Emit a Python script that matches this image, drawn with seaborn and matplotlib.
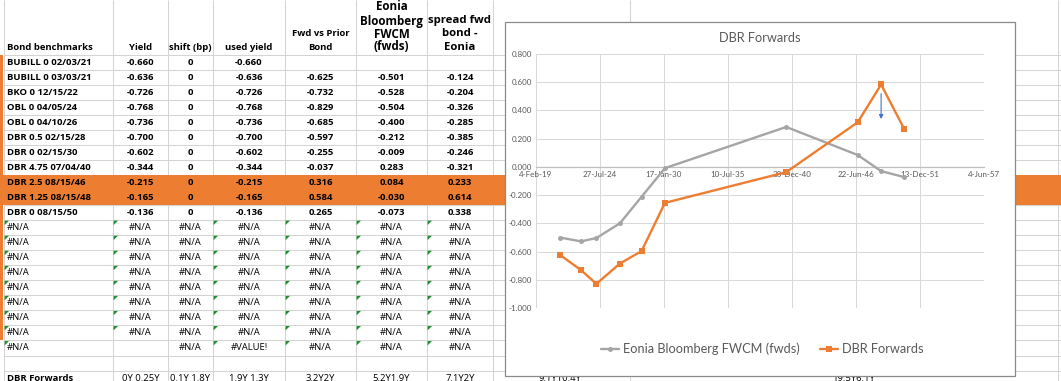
import numpy as np
import pandas as pd
import matplotlib
matplotlib.use("Agg")
import matplotlib.pyplot as plt
import matplotlib.dates as mdates
from matplotlib.patches import Rectangle, Polygon
from matplotlib.ticker import FuncFormatter
import seaborn as sns

# ---------------- data ----------------
bond_names = ["BUBILL 0 02/03/21", "BUBILL 0 03/03/21", "BKO 0 12/15/22", "OBL 0 04/05/24",
              "OBL 0 04/10/26", "DBR 0.5 02/15/28", "DBR 0 02/15/30", "DBR 4.75 07/04/40",
              "DBR 2.5 08/15/46", "DBR 1.25 08/15/48", "DBR 0 08/15/50"]
maturities = ["2021-02-03", "2021-03-03", "2022-12-15", "2024-04-05", "2026-04-10",
              "2028-02-15", "2030-02-15", "2040-07-04", "2046-08-15", "2048-08-15", "2050-08-15"]
yields = [-0.660, -0.636, -0.726, -0.768, -0.736, -0.700, -0.602, -0.344, -0.215, -0.165, -0.136]
shifts_bp = [0, 0, 0, 0, 0, 0, 0, 0, 0, 0, 0]
used_yields = [-0.660, -0.636, -0.726, -0.768, -0.736, -0.700, -0.602, -0.344, -0.215, -0.165, -0.136]
fwd_vs_prior = [np.nan, -0.625, -0.732, -0.829, -0.685, -0.597, -0.255, -0.037, 0.316, 0.584, 0.265]
eonia_fwcm = [np.nan, -0.501, -0.528, -0.504, -0.400, -0.212, -0.009, 0.283, 0.084, -0.030, -0.073]
spread_fwd_eonia = [np.nan, -0.124, -0.204, -0.326, -0.285, -0.385, -0.246, -0.321, 0.233, 0.614, 0.338]
highlight_rows = ["DBR 2.5 08/15/46", "DBR 1.25 08/15/48"]
n_na_rows = 9
fwd_tenor_labels = ["0Y 0.25Y", "0.1Y 1.8Y", "1.9Y 1.3Y", "3.2Y2Y", "5.2Y1.9Y", "7.1Y2Y",
                    "9.1Y10.4Y", "19.5Y6.1Y"]
header_labels = ["Bond benchmarks", "Yield", "shift (bp)", "used yield",
                 "Fwd vs Prior\nBond", "Eonia\nBloomberg\nFWCM\n(fwds)", "spread fwd\nbond -\nEonia"]
chart_title = "DBR Forwards"
series_names = ["Eonia Bloomberg FWCM (fwds)", "DBR Forwards"]
x_axis_min_serial, x_axis_max_serial, x_major_unit = 43500, 57500, 2000
y_axis_min, y_axis_max, y_major_unit = -1.0, 0.8, 0.2

# ---------------- style ----------------
sns.set_theme(style="white")
plt.rcParams['font.family'] = ['Lato', 'DejaVu Sans']
TABFONT = ['Open Sans', 'DejaVu Sans']

ORANGE = '#ED7D31'
GREY = '#A5A5A5'
TXT = '#595959'
GRID = '#d4d4d4'
BODY = 6.8

W, H = 1061, 381
fig = plt.figure(figsize=(W / 100, H / 100), dpi=100)
fig.patch.set_facecolor('white')

# background "sheet" axes in pixel coordinates
tab = fig.add_axes([0, 0, 1, 1])
tab.set_xlim(0, W)
tab.set_ylim(H, 0)
tab.axis('off')

row_top, row_h = 54.5, 15.05
col_edges = [4, 113, 168, 213, 285, 356, 427, 493]
col_centers = [(a + b) / 2 for a, b in zip(col_edges[:-1], col_edges[1:])]

for k in range(0, 23):
    y = row_top + k * row_h
    tab.plot([4, W], [y, y], color=GRID, lw=0.75, zorder=1, solid_capstyle='butt')
for x in col_edges + [630, 1058]:
    tab.plot([x, x], [0, H], color=GRID, lw=0.75, zorder=1, solid_capstyle='butt')

# highlighted rows
for name in highlight_rows:
    k = bond_names.index(name)
    tab.add_patch(Rectangle((0, row_top + k * row_h), W, row_h, facecolor=ORANGE,
                            edgecolor='none', zorder=2))
# left orange strip
tab.add_patch(Rectangle((0, row_top), 3.3, 340 - row_top, facecolor=ORANGE,
                        edgecolor='none', zorder=2))


def yc(k):
    return row_top + (k + 0.5) * row_h


def cell(x, y, s, ha='center', size=BODY, bold=True):
    tab.text(x, y, s, ha=ha, va='center', fontsize=size, family=TABFONT,
             fontweight='bold' if bold else 'normal', color='black', zorder=5)


# header
cell(7, 48, header_labels[0], ha='left')
for i in (1, 2, 3):
    cell(col_centers[i], 48, header_labels[i])
for line, y in zip(header_labels[4].split("\n"), [33, 48]):
    cell(col_centers[4], y, line)
for line, y in zip(header_labels[5].split("\n"), [7, 21, 34, 47]):
    cell(col_centers[5], y, line, size=8.4)
for line, y in zip(header_labels[6].split("\n"), [21, 34, 47]):
    cell(col_centers[6], y, line, size=8.2)


def fmt(v):
    if v is None or (isinstance(v, float) and np.isnan(v)):
        return ""
    return f"{v + 0.0:.3f}"


body_cols = list(zip(yields, shifts_bp, used_yields, fwd_vs_prior, eonia_fwcm, spread_fwd_eonia))
for k, name in enumerate(bond_names):
    cell(7, yc(k), name, ha='left')
    vals = body_cols[k]
    texts = [fmt(vals[0]), str(vals[1]), fmt(vals[2]), fmt(vals[3]), fmt(vals[4]), fmt(vals[5])]
    for j, t in enumerate(texts):
        cell(col_centers[j + 1], yc(k), t)


def tri(x0, y0):
    tab.add_patch(Polygon([[x0 + 0.6, y0 + 0.6], [x0 + 5, y0 + 0.6], [x0 + 0.6, y0 + 5]],
                          closed=True, facecolor='#1f8f2f', edgecolor='none', zorder=4))


for r in range(n_na_rows):
    k = len(bond_names) + r
    last = (r == n_na_rows - 1)
    cell(7, yc(k), "#N/A", ha='left', bold=False)
    row_txt = ["", "#N/A", "#VALUE!", "#N/A", "#N/A", "#N/A"] if last else ["#N/A"] * 6
    for j, t in enumerate(row_txt):
        cell(col_centers[j + 1], yc(k), t, bold=False)
    y0 = row_top + k * row_h
    tri(4, y0)
    for j, c in enumerate(col_edges[1:7]):
        if j == 1:
            continue
        if last and j == 0:
            continue
        tri(c, y0)

# DBR Forwards row
k_fwd = len(bond_names) + n_na_rows + 1
cell(7, yc(k_fwd), "DBR Forwards", ha='left')
tenor_x = col_centers[1:] + [560, 853]
for t, x in zip(fwd_tenor_labels, tenor_x):
    cell(x, yc(k_fwd), t, bold=False)

# chart box
tab.add_patch(Rectangle((505, 22), 510, 354, facecolor='white', edgecolor='#8a8a8a',
                        lw=0.9, zorder=20))
tab.text(760, 38, chart_title, ha='center', va='center', fontsize=9.2, color=TXT, zorder=25)

# ---------------- chart ----------------
ax = fig.add_axes([536 / W, 1 - 308 / H, 448 / W, 254 / H])
ax.set_zorder(1)
ax.set_facecolor('white')

chart_df = pd.DataFrame({
    "maturity": pd.to_datetime(maturities[1:]),
    "eonia": eonia_fwcm[1:],
    "fwd": fwd_vs_prior[1:],
})
sns.lineplot(data=chart_df, x="maturity", y="eonia", ax=ax, color=GREY, lw=1.7,
             marker='o', markersize=3.6, markeredgewidth=0, label=series_names[0], zorder=3)
sns.lineplot(data=chart_df, x="maturity", y="fwd", ax=ax, color=ORANGE, lw=1.7,
             marker='s', markersize=4.4, markeredgewidth=0, label=series_names[1], zorder=4)

excel_epoch = pd.Timestamp("1899-12-30")
xmin = excel_epoch + pd.Timedelta(days=x_axis_min_serial)
xmax = excel_epoch + pd.Timedelta(days=x_axis_max_serial)
xticks = [excel_epoch + pd.Timedelta(days=s)
          for s in range(x_axis_min_serial, x_axis_max_serial + 1, x_major_unit)]
ax.set_xlim(xmin, xmax)
ax.set_xticks(xticks)
ax.xaxis.set_major_formatter(FuncFormatter(
    lambda v, p: (lambda d: f"{d.day}-{d:%b-%y}")(mdates.num2date(v))))
yticks = np.round(np.arange(y_axis_min, y_axis_max + 1e-9, y_major_unit), 1)
ax.set_ylim(y_axis_min, y_axis_max)
ax.set_yticks(yticks)
ax.yaxis.set_major_formatter(FuncFormatter(lambda v, p: f"{(0.0 if abs(v) < 1e-9 else v):.3f}"))

ax.grid(True, color='#d9d9d9', lw=0.75)
ax.set_axisbelow(True)
for s in ('left', 'top', 'right'):
    ax.spines[s].set_visible(False)
ax.spines['bottom'].set_position(('data', 0))
ax.spines['bottom'].set_color('#bfbfbf')
ax.spines['bottom'].set_linewidth(0.9)
ax.tick_params(axis='both', length=0, labelsize=5.8, labelcolor=TXT, pad=3)
ax.set_xlabel("")
ax.set_ylabel("")

# blue arrow annotation below the 2048 forward point
i48 = list(chart_df["maturity"]).index(pd.Timestamp("2048-08-15"))
x48 = mdates.date2num(chart_df["maturity"][i48])
y48 = chart_df["fwd"][i48]
ax.annotate("", xy=(x48, y48 - 0.245), xytext=(x48, y48 - 0.065),
            arrowprops=dict(arrowstyle='-|>', color='#4472C4', lw=0.8,
                            mutation_scale=6, shrinkA=0, shrinkB=0), zorder=6)

handles, labels = ax.get_legend_handles_labels()
ax.get_legend().remove()
leg = fig.legend(handles, labels, loc='center', bbox_to_anchor=(762 / W, 1 - 349 / H),
                 ncol=2, frameon=False, fontsize=9.2, handlelength=1.45, handletextpad=0.25,
                 columnspacing=1.6)
for t in leg.get_texts():
    t.set_color(TXT)

fig.savefig("out.png", dpi=100)
